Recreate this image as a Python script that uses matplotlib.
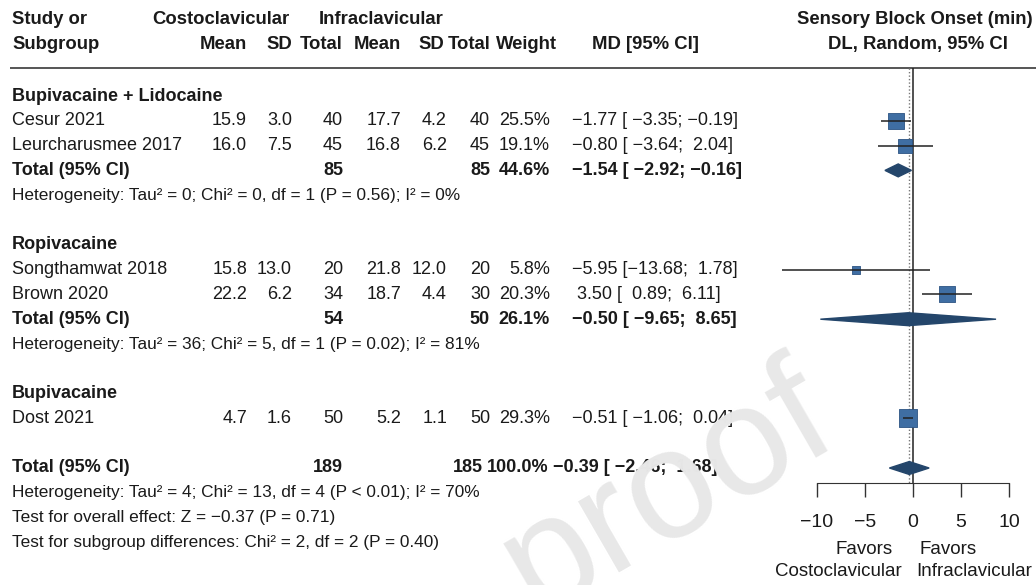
import matplotlib.pyplot as plt

plt.rcParams['font.family'] = ['Liberation Sans', 'DejaVu Sans']

# study level data
study = ['Cesur 2021', 'Leurcharusmee 2017', 'Songthamwat 2018', 'Brown 2020', 'Dost 2021']
group = ['Bupivacaine + Lidocaine', 'Bupivacaine + Lidocaine', 'Ropivacaine', 'Ropivacaine', 'Bupivacaine']
costo_mean = [15.9, 16.0, 15.8, 22.2, 4.7]
costo_sd = [3.0, 7.5, 13.0, 6.2, 1.6]
costo_n = [40, 45, 20, 34, 50]
infra_mean = [17.7, 16.8, 21.8, 18.7, 5.2]
infra_sd = [4.2, 6.2, 12.0, 4.4, 1.1]
infra_n = [40, 45, 20, 30, 50]
weight = [25.5, 19.1, 5.8, 20.3, 29.3]
md = [-1.77, -0.80, -5.95, 3.50, -0.51]
md_lo = [-3.35, -3.64, -13.68, 0.89, -1.06]
md_hi = [-0.19, 2.04, 1.78, 6.11, 0.04]

# subgroup pooled results (only groups with >1 study)
groups = ['Bupivacaine + Lidocaine', 'Ropivacaine', 'Bupivacaine']
sub_costo_n = {'Bupivacaine + Lidocaine': 85, 'Ropivacaine': 54}
sub_infra_n = {'Bupivacaine + Lidocaine': 85, 'Ropivacaine': 50}
sub_weight = {'Bupivacaine + Lidocaine': 44.6, 'Ropivacaine': 26.1}
sub_md = {'Bupivacaine + Lidocaine': -1.54, 'Ropivacaine': -0.50}
sub_lo = {'Bupivacaine + Lidocaine': -2.92, 'Ropivacaine': -9.65}
sub_hi = {'Bupivacaine + Lidocaine': -0.16, 'Ropivacaine': 8.65}
sub_het = {'Bupivacaine + Lidocaine': 'Heterogeneity: Tau² = 0; Chi² = 0, df = 1 (P = 0.56); I² = 0%',
           'Ropivacaine': 'Heterogeneity: Tau² = 36; Chi² = 5, df = 1 (P = 0.02); I² = 81%'}

# overall
tot_costo_n = 189
tot_infra_n = 185
tot_weight = 100.0
tot_md, tot_lo, tot_hi = -0.39, -2.46, 1.68
overall_notes = ['Heterogeneity: Tau² = 4; Chi² = 13, df = 4 (P < 0.01); I² = 70%',
                 'Test for overall effect: Z = −0.37 (P = 0.71)',
                 'Test for subgroup differences: Chi² = 2, df = 2 (P = 0.40)']
xticks = [-10, -5, 0, 5, 10]

# layout helpers (pixel grid of the original image)
Y0, DY = 96, 24.8
X0, SX = 913, 9.6


def K(y):
    return (y - Y0) / DY


def fmt_ci(e, l, u):
    return f'{e:>5.2f} [{l:>6.2f}; {u:>5.2f}]'.replace('-', '−')


TXT = '#1a1a1a'
FS = 13
FS_HEAD = 13.3
FS_SMALL = 12.4
SQ = '#3f6ea3'
DIA = '#24466b'

fig = plt.figure(figsize=(10.36, 5.85), dpi=100)
ax = fig.add_axes([0, 0, 1, 1])
ax.set_xlim(0, 1036)
ax.set_ylim(K(585), K(0))
ax.axis('off')

fax = fig.add_axes([760 / 1036, 0, 276 / 1036, 1])
fax.set_xlim((760 - X0) / SX, (1036 - X0) / SX)
fax.set_ylim(K(585), K(0))
fax.patch.set_alpha(0)
for s in ['left', 'right', 'top']:
    fax.spines[s].set_visible(False)
fax.spines['bottom'].set_position(('data', K(483)))
fax.spines['bottom'].set_bounds(-10, 10)
fax.spines['bottom'].set_color('#333333')
fax.set_yticks([])
fax.set_xticks(xticks)
fax.tick_params(axis='x', direction='out', length=10, width=1, color='#333333',
                labelsize=14, pad=12, labelcolor=TXT)

# columns
C_MEAN, C_SD, C_N = 247, 292, 343
I_MEAN, I_SD, I_N = 401, 447, 490
W_COL, MD_COL = 550, 572

# header
hk1, hk2 = K(19), K(44)
ax.text(12, hk1, 'Study or', fontsize=FS_HEAD, fontweight='bold', va='center', color=TXT)
ax.text(12, hk2, 'Subgroup', fontsize=FS_HEAD, fontweight='bold', va='center', color=TXT)
ax.text(221, hk1, 'Costoclavicular', fontsize=FS_HEAD, fontweight='bold', va='center', ha='center', color=TXT)
ax.text(381, hk1, 'Infraclavicular', fontsize=FS_HEAD, fontweight='bold', va='center', ha='center', color=TXT)
for x, lab in [(C_MEAN, 'Mean'), (C_SD, 'SD'), (C_N, 'Total'), (I_MEAN, 'Mean'),
               (I_SD - 3, 'SD'), (I_N, 'Total'), (557, 'Weight')]:
    ax.text(x, hk2, lab, fontsize=FS_HEAD, fontweight='bold', va='center', ha='right', color=TXT)
ax.text(645, hk2, 'MD [95% CI]', fontsize=FS_HEAD, fontweight='bold', va='center', ha='center', color=TXT)
ax.text(915, hk1, 'Sensory Block Onset (min)', fontsize=FS_HEAD, fontweight='bold', va='center', ha='center', color=TXT)
ax.text(918, hk2, 'DL, Random, 95% CI', fontsize=FS_HEAD, fontweight='bold', va='center', ha='center', color=TXT)
ax.hlines(K(68), 10, 1036, color='#555555', lw=1.4)

# body
k = 0
for g in groups:
    ax.text(12, k, g, fontsize=FS, fontweight='bold', va='center', color=TXT)
    k += 1
    idx = [i for i in range(len(study)) if group[i] == g]
    for i in idx:
        ax.text(12, k, study[i], fontsize=FS, va='center', color=TXT)
        for x, v in [(C_MEAN, f'{costo_mean[i]:.1f}'), (C_SD, f'{costo_sd[i]:.1f}'), (C_N, f'{costo_n[i]}'),
                     (I_MEAN, f'{infra_mean[i]:.1f}'), (I_SD, f'{infra_sd[i]:.1f}'), (I_N, f'{infra_n[i]}'),
                     (W_COL, f'{weight[i]:.1f}%')]:
            ax.text(x, k, v, fontsize=FS, va='center', ha='right', color=TXT)
        ax.text(MD_COL, k, fmt_ci(md[i], md_lo[i], md_hi[i]), fontsize=FS, va='center', color=TXT)
        fax.hlines(k, md_lo[i], md_hi[i], color='#222222', lw=1.1, zorder=4)
        fax.scatter(md[i], k, s=5.8 * weight[i], marker='s', color=SQ,
                    edgecolor='#2c5383', linewidth=0.6, zorder=3)
        k += 1
    if len(idx) > 1:
        ax.text(12, k, 'Total (95% CI)', fontsize=FS, fontweight='bold', va='center', color=TXT)
        for x, v in [(C_N, f'{sub_costo_n[g]}'), (I_N, f'{sub_infra_n[g]}'), (W_COL, f'{sub_weight[g]:.1f}%')]:
            ax.text(x, k, v, fontsize=FS, fontweight='bold', va='center', ha='right', color=TXT)
        ax.text(MD_COL, k, fmt_ci(sub_md[g], sub_lo[g], sub_hi[g]), fontsize=FS,
                fontweight='bold', va='center', color=TXT)
        h = 0.26
        fax.fill([sub_lo[g], sub_md[g], sub_hi[g], sub_md[g]], [k, k - h, k, k + h],
                 color=DIA, zorder=3)
        k += 1
        ax.text(12, k, sub_het[g], fontsize=FS_SMALL, va='center', color=TXT)
        k += 1
    k += 1

# overall
ax.text(12, k, 'Total (95% CI)', fontsize=FS, fontweight='bold', va='center', color=TXT)
ax.text(C_N, k, f'{tot_costo_n}', fontsize=FS, fontweight='bold', va='center', ha='right', color=TXT)
ax.text(483, k, f'{tot_infra_n}', fontsize=FS, fontweight='bold', va='center', ha='right', color=TXT)
ax.text(487, k, f'{tot_weight:.1f}%', fontsize=FS, fontweight='bold', va='center', ha='left', color=TXT)
ax.text(553, k, fmt_ci(tot_md, tot_lo, tot_hi), fontsize=FS, fontweight='bold', va='center', color=TXT)
fax.fill([tot_lo, tot_md, tot_hi, tot_md], [k, k - 0.26, k, k + 0.26], color=DIA, zorder=3)
for note in overall_notes:
    k += 1
    ax.text(12, k, note, fontsize=FS_SMALL, va='center', color=TXT)

# reference lines
fax.vlines(0, K(68), K(483), color='#222222', lw=1.1, zorder=2)
fax.vlines(tot_md, K(68), K(483), color='#777777', lw=1.0, linestyles=(0, (1, 1.5)), zorder=2)

# x-axis side labels
ax.text(864, K(549), 'Favors', fontsize=13.5, va='center', ha='center', color=TXT)
ax.text(838, K(572), 'Costoclavicular', fontsize=13.5, va='center', ha='center', color=TXT)
ax.text(948, K(549), 'Favors', fontsize=13.5, va='center', ha='center', color=TXT)
ax.text(1032, K(572), 'Infraclavicular', fontsize=13.5, va='center', ha='right', color=TXT)

# watermark
fig.text(668 / 1036, 1 - 492 / 585, 'proof', fontsize=112, color='#e8e8e8', rotation=30,
         ha='center', va='center', zorder=10)

fig.savefig('out.png', dpi=100)
